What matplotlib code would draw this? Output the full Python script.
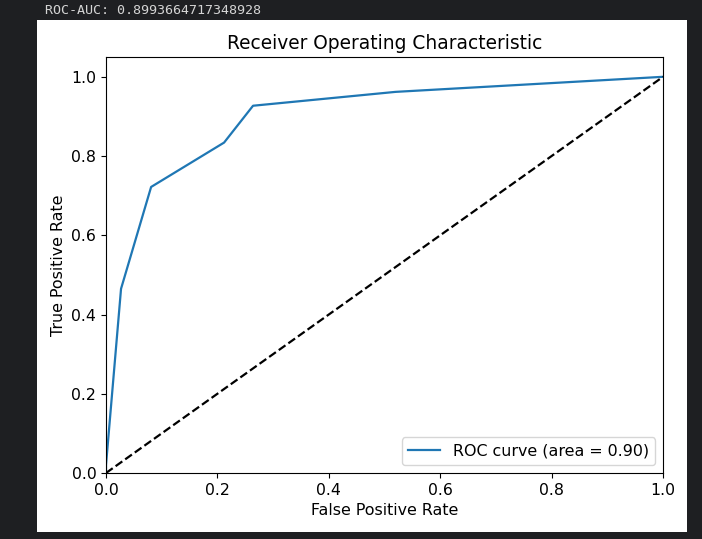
import matplotlib
matplotlib.use("Agg")
import matplotlib.pyplot as plt

fpr = [0.0, 0.0, 0.027, 0.081, 0.212, 0.264, 0.52, 1.0]
tpr = [0.0, 0.02, 0.465, 0.722, 0.834, 0.927, 0.962, 1.0]
roc_auc = 0.8993664717348928
diag = [0, 1]

W, H = 702, 539
fig = plt.figure(figsize=(W / 100, H / 100), dpi=100)
fig.patch.set_facecolor("#1e1f22")

# white output area
bg = fig.add_axes([37 / W, 1 - 532 / H, (687 - 37) / W, (532 - 20) / H])
bg.set_facecolor("white")
bg.set_xticks([])
bg.set_yticks([])
for s in bg.spines.values():
    s.set_visible(False)
bg.set_zorder(-5)

fig.text(45 / W, 1 - 10 / H, f"ROC-AUC: {roc_auc}", family="DejaVu Sans Mono",
         fontsize=9.6, color="#d4d4d4", va="center", ha="left")

ax = fig.add_axes([106 / W, 1 - 473 / H, (663 - 106) / W, (473 - 57) / H])
ax.plot(fpr, tpr, color="#1f77b4", lw=1.6, label=f"ROC curve (area = {roc_auc:.2f})")
ax.plot(diag, diag, "k--", lw=1.6)
ax.set_xlim(0.0, 1.0)
ax.set_ylim(0.0, 1.05)
ax.set_xlabel("False Positive Rate", fontsize=11.4)
ax.set_ylabel("True Positive Rate", fontsize=11.4)
ax.set_title("Receiver Operating Characteristic", fontsize=13.4)
ax.tick_params(labelsize=11.3)
ax.legend(loc="lower right", fontsize=11.4)

fig.savefig("out.png", dpi=100, facecolor=fig.get_facecolor())
